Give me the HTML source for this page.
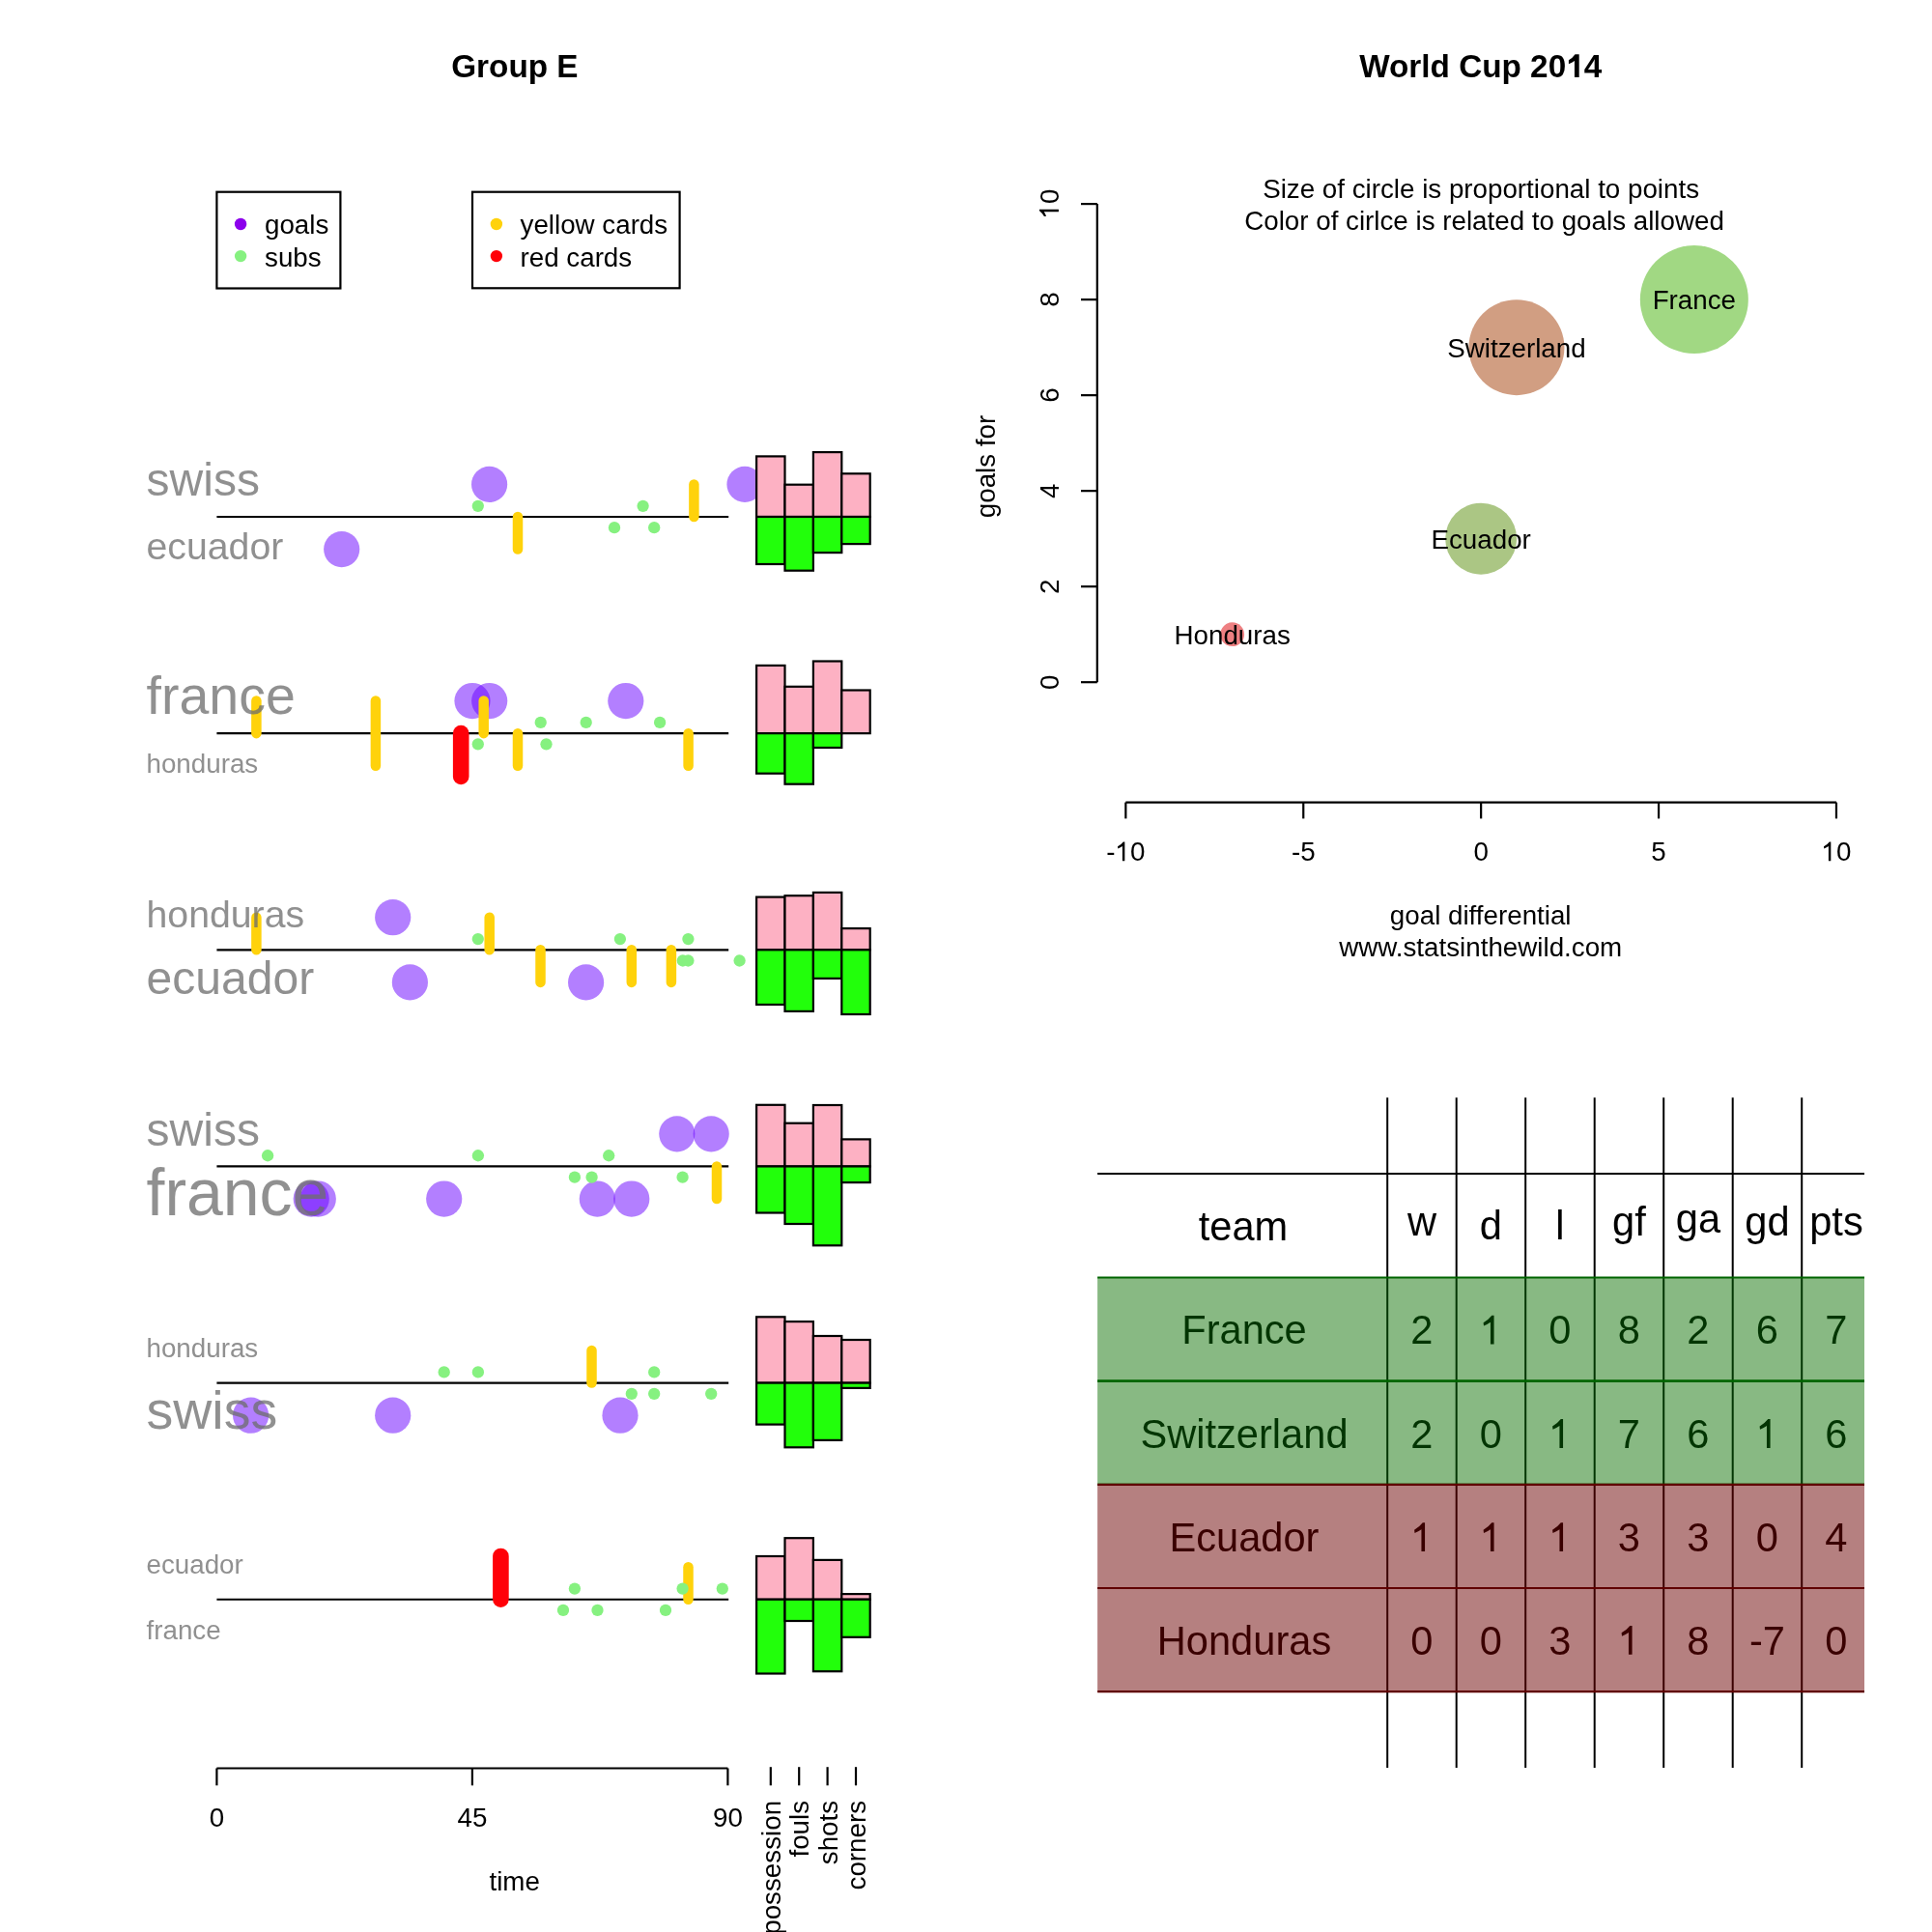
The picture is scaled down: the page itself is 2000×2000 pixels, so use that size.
<!DOCTYPE html>
<html><head><meta charset="utf-8"><title>Group E - World Cup 2014</title>
<style>
html,body{margin:0;padding:0;background:#fff;}
svg{display:block;will-change:transform;}
text{font-family:"Liberation Sans",sans-serif;}
</style></head>
<body>
<svg width="2000" height="2000" viewBox="0 0 2000 2000">
<rect x="0" y="0" width="2000" height="2000" fill="#fff"/>
<text x="532.90" y="80.00" font-size="33.30" font-weight="bold" text-anchor="middle" fill="#000">Group E</text>
<text x="1407.18" y="80.20" font-size="33.30" font-weight="bold" fill="#000">World Cup 20</text>
<path d="M1634.69 80.00L1634.69 56.20L1630.55 56.20Q1627.84 60.02 1623.92 62.20L1623.92 66.14Q1627.50 65.02 1629.93 63.04L1629.93 80.00Z" fill="#000"/>
<text x="1639.70" y="80.20" font-size="33.30" font-weight="bold" fill="#000">4</text>
<rect x="224.4" y="198.7" width="128.0" height="99.8" fill="none" stroke="#000" stroke-width="2.2"/>
<circle cx="249.10" cy="232.00" r="6.20" fill="#8C00EC"/>
<circle cx="249.10" cy="265.10" r="6.20" fill="#86F180"/>
<text x="274.00" y="242.00" font-size="27.75" fill="#000">goals</text>
<text x="274.00" y="275.70" font-size="27.75" fill="#000">subs</text>
<rect x="489.0" y="198.7" width="214.6" height="99.6" fill="none" stroke="#000" stroke-width="2.2"/>
<circle cx="513.90" cy="232.00" r="6.20" fill="#FFD20B"/>
<circle cx="513.90" cy="265.10" r="6.20" fill="#FF0008"/>
<text x="538.50" y="241.90" font-size="27.75" fill="#000">yellow cards</text>
<text x="538.50" y="275.70" font-size="27.75" fill="#000">red cards</text>
<line x1="224.40" y1="535.00" x2="754.20" y2="535.00" stroke="#000" stroke-width="2.2" stroke-linecap="butt"/>
<circle cx="506.60" cy="501.40" r="18.60" fill="#6700FF" fill-opacity="0.5"/>
<circle cx="771.00" cy="501.40" r="18.60" fill="#6700FF" fill-opacity="0.5"/>
<circle cx="353.70" cy="568.60" r="18.60" fill="#6700FF" fill-opacity="0.5"/>
<line x1="718.40" y1="535.00" x2="718.40" y2="501.40" stroke="#FFD20B" stroke-width="10.5" stroke-linecap="round"/>
<line x1="536.00" y1="535.00" x2="536.00" y2="568.60" stroke="#FFD20B" stroke-width="10.5" stroke-linecap="round"/>
<circle cx="494.80" cy="523.80" r="6.15" fill="#86F180"/>
<circle cx="665.60" cy="523.80" r="6.15" fill="#86F180"/>
<circle cx="636.00" cy="546.20" r="6.15" fill="#86F180"/>
<circle cx="677.20" cy="546.20" r="6.15" fill="#86F180"/>
<rect x="783.10" y="472.40" width="29.40" height="62.60" fill="#FDB1C3" stroke="#000" stroke-width="2.2"/>
<rect x="812.50" y="501.70" width="29.40" height="33.30" fill="#FDB1C3" stroke="#000" stroke-width="2.2"/>
<rect x="841.90" y="468.10" width="29.40" height="66.90" fill="#FDB1C3" stroke="#000" stroke-width="2.2"/>
<rect x="871.30" y="490.30" width="29.40" height="44.70" fill="#FDB1C3" stroke="#000" stroke-width="2.2"/>
<rect x="783.10" y="535.00" width="29.40" height="49.00" fill="#22FF0B" stroke="#000" stroke-width="2.2"/>
<rect x="812.50" y="535.00" width="29.40" height="55.70" fill="#22FF0B" stroke="#000" stroke-width="2.2"/>
<rect x="841.90" y="535.00" width="29.40" height="37.10" fill="#22FF0B" stroke="#000" stroke-width="2.2"/>
<rect x="871.30" y="535.00" width="29.40" height="28.10" fill="#22FF0B" stroke="#000" stroke-width="2.2"/>
<text x="151.50" y="513.10" font-size="48.06" fill="#6D6D6D" fill-opacity="0.76">swiss</text>
<text x="151.50" y="578.80" font-size="39.24" fill="#6D6D6D" fill-opacity="0.76">ecuador</text>
<line x1="224.40" y1="759.15" x2="754.20" y2="759.15" stroke="#000" stroke-width="2.2" stroke-linecap="butt"/>
<circle cx="489.00" cy="725.55" r="18.60" fill="#6700FF" fill-opacity="0.5"/>
<circle cx="506.70" cy="725.55" r="18.60" fill="#6700FF" fill-opacity="0.5"/>
<circle cx="647.80" cy="725.55" r="18.60" fill="#6700FF" fill-opacity="0.5"/>
<line x1="265.40" y1="759.15" x2="265.40" y2="725.55" stroke="#FFD20B" stroke-width="10.5" stroke-linecap="round"/>
<line x1="388.90" y1="759.15" x2="388.90" y2="725.55" stroke="#FFD20B" stroke-width="10.5" stroke-linecap="round"/>
<line x1="500.70" y1="759.15" x2="500.70" y2="725.55" stroke="#FFD20B" stroke-width="10.5" stroke-linecap="round"/>
<line x1="388.90" y1="759.15" x2="388.90" y2="792.75" stroke="#FFD20B" stroke-width="10.5" stroke-linecap="round"/>
<line x1="536.00" y1="759.15" x2="536.00" y2="792.75" stroke="#FFD20B" stroke-width="10.5" stroke-linecap="round"/>
<line x1="712.60" y1="759.15" x2="712.60" y2="792.75" stroke="#FFD20B" stroke-width="10.5" stroke-linecap="round"/>
<line x1="477.20" y1="759.15" x2="477.20" y2="803.95" stroke="#FF0008" stroke-width="16.6" stroke-linecap="round"/>
<circle cx="559.70" cy="747.95" r="6.15" fill="#86F180"/>
<circle cx="606.70" cy="747.95" r="6.15" fill="#86F180"/>
<circle cx="683.10" cy="747.95" r="6.15" fill="#86F180"/>
<circle cx="494.80" cy="770.35" r="6.15" fill="#86F180"/>
<circle cx="565.50" cy="770.35" r="6.15" fill="#86F180"/>
<rect x="783.10" y="688.90" width="29.40" height="70.25" fill="#FDB1C3" stroke="#000" stroke-width="2.2"/>
<rect x="812.50" y="710.80" width="29.40" height="48.35" fill="#FDB1C3" stroke="#000" stroke-width="2.2"/>
<rect x="841.90" y="684.50" width="29.40" height="74.65" fill="#FDB1C3" stroke="#000" stroke-width="2.2"/>
<rect x="871.30" y="714.50" width="29.40" height="44.65" fill="#FDB1C3" stroke="#000" stroke-width="2.2"/>
<rect x="783.10" y="759.15" width="29.40" height="41.55" fill="#22FF0B" stroke="#000" stroke-width="2.2"/>
<rect x="812.50" y="759.15" width="29.40" height="52.55" fill="#22FF0B" stroke="#000" stroke-width="2.2"/>
<rect x="841.90" y="759.15" width="29.40" height="14.85" fill="#22FF0B" stroke="#000" stroke-width="2.2"/>
<rect x="871.30" y="759.15" width="29.40" height="0.00" fill="#22FF0B" stroke="#000" stroke-width="2.2"/>
<text x="151.50" y="738.90" font-size="55.50" fill="#6D6D6D" fill-opacity="0.76">france</text>
<text x="151.50" y="799.90" font-size="27.75" fill="#6D6D6D" fill-opacity="0.76">honduras</text>
<line x1="224.40" y1="983.30" x2="754.20" y2="983.30" stroke="#000" stroke-width="2.2" stroke-linecap="butt"/>
<circle cx="406.70" cy="949.70" r="18.60" fill="#6700FF" fill-opacity="0.5"/>
<circle cx="424.40" cy="1016.90" r="18.60" fill="#6700FF" fill-opacity="0.5"/>
<circle cx="606.60" cy="1016.90" r="18.60" fill="#6700FF" fill-opacity="0.5"/>
<line x1="265.40" y1="983.30" x2="265.40" y2="949.70" stroke="#FFD20B" stroke-width="10.5" stroke-linecap="round"/>
<line x1="506.70" y1="983.30" x2="506.70" y2="949.70" stroke="#FFD20B" stroke-width="10.5" stroke-linecap="round"/>
<line x1="559.50" y1="983.30" x2="559.50" y2="1016.90" stroke="#FFD20B" stroke-width="10.5" stroke-linecap="round"/>
<line x1="653.80" y1="983.30" x2="653.80" y2="1016.90" stroke="#FFD20B" stroke-width="10.5" stroke-linecap="round"/>
<line x1="694.90" y1="983.30" x2="694.90" y2="1016.90" stroke="#FFD20B" stroke-width="10.5" stroke-linecap="round"/>
<circle cx="494.80" cy="972.10" r="6.15" fill="#86F180"/>
<circle cx="641.90" cy="972.10" r="6.15" fill="#86F180"/>
<circle cx="712.40" cy="972.10" r="6.15" fill="#86F180"/>
<circle cx="706.80" cy="994.50" r="6.15" fill="#86F180"/>
<circle cx="712.40" cy="994.50" r="6.15" fill="#86F180"/>
<circle cx="765.60" cy="994.50" r="6.15" fill="#86F180"/>
<rect x="783.10" y="928.60" width="29.40" height="54.70" fill="#FDB1C3" stroke="#000" stroke-width="2.2"/>
<rect x="812.50" y="927.20" width="29.40" height="56.10" fill="#FDB1C3" stroke="#000" stroke-width="2.2"/>
<rect x="841.90" y="923.90" width="29.40" height="59.40" fill="#FDB1C3" stroke="#000" stroke-width="2.2"/>
<rect x="871.30" y="961.10" width="29.40" height="22.20" fill="#FDB1C3" stroke="#000" stroke-width="2.2"/>
<rect x="783.10" y="983.30" width="29.40" height="56.70" fill="#22FF0B" stroke="#000" stroke-width="2.2"/>
<rect x="812.50" y="983.30" width="29.40" height="63.60" fill="#22FF0B" stroke="#000" stroke-width="2.2"/>
<rect x="841.90" y="983.30" width="29.40" height="29.60" fill="#22FF0B" stroke="#000" stroke-width="2.2"/>
<rect x="871.30" y="983.30" width="29.40" height="66.70" fill="#22FF0B" stroke="#000" stroke-width="2.2"/>
<text x="151.50" y="960.00" font-size="39.24" fill="#6D6D6D" fill-opacity="0.76">honduras</text>
<text x="151.50" y="1028.70" font-size="48.06" fill="#6D6D6D" fill-opacity="0.76">ecuador</text>
<line x1="224.40" y1="1207.45" x2="754.20" y2="1207.45" stroke="#000" stroke-width="2.2" stroke-linecap="butt"/>
<circle cx="700.80" cy="1173.85" r="18.60" fill="#6700FF" fill-opacity="0.5"/>
<circle cx="736.20" cy="1173.85" r="18.60" fill="#6700FF" fill-opacity="0.5"/>
<circle cx="322.20" cy="1241.05" r="18.60" fill="#6700FF" fill-opacity="0.5"/>
<circle cx="329.30" cy="1241.05" r="18.60" fill="#6700FF" fill-opacity="0.5"/>
<circle cx="459.70" cy="1241.05" r="18.60" fill="#6700FF" fill-opacity="0.5"/>
<circle cx="618.30" cy="1241.05" r="18.60" fill="#6700FF" fill-opacity="0.5"/>
<circle cx="653.80" cy="1241.05" r="18.60" fill="#6700FF" fill-opacity="0.5"/>
<line x1="742.00" y1="1207.45" x2="742.00" y2="1241.05" stroke="#FFD20B" stroke-width="10.5" stroke-linecap="round"/>
<circle cx="277.10" cy="1196.25" r="6.15" fill="#86F180"/>
<circle cx="494.90" cy="1196.25" r="6.15" fill="#86F180"/>
<circle cx="630.20" cy="1196.25" r="6.15" fill="#86F180"/>
<circle cx="594.90" cy="1218.65" r="6.15" fill="#86F180"/>
<circle cx="612.60" cy="1218.65" r="6.15" fill="#86F180"/>
<circle cx="706.60" cy="1218.65" r="6.15" fill="#86F180"/>
<rect x="783.10" y="1143.80" width="29.40" height="63.65" fill="#FDB1C3" stroke="#000" stroke-width="2.2"/>
<rect x="812.50" y="1162.70" width="29.40" height="44.75" fill="#FDB1C3" stroke="#000" stroke-width="2.2"/>
<rect x="841.90" y="1144.00" width="29.40" height="63.45" fill="#FDB1C3" stroke="#000" stroke-width="2.2"/>
<rect x="871.30" y="1179.40" width="29.40" height="28.05" fill="#FDB1C3" stroke="#000" stroke-width="2.2"/>
<rect x="783.10" y="1207.45" width="29.40" height="48.05" fill="#22FF0B" stroke="#000" stroke-width="2.2"/>
<rect x="812.50" y="1207.45" width="29.40" height="59.55" fill="#22FF0B" stroke="#000" stroke-width="2.2"/>
<rect x="841.90" y="1207.45" width="29.40" height="81.85" fill="#22FF0B" stroke="#000" stroke-width="2.2"/>
<rect x="871.30" y="1207.45" width="29.40" height="16.65" fill="#22FF0B" stroke="#000" stroke-width="2.2"/>
<text x="151.50" y="1185.90" font-size="48.06" fill="#6D6D6D" fill-opacity="0.76">swiss</text>
<text x="151.50" y="1257.80" font-size="67.97" fill="#6D6D6D" fill-opacity="0.76">france</text>
<line x1="224.40" y1="1431.60" x2="754.20" y2="1431.60" stroke="#000" stroke-width="2.2" stroke-linecap="butt"/>
<circle cx="259.60" cy="1465.20" r="18.60" fill="#6700FF" fill-opacity="0.5"/>
<circle cx="406.70" cy="1465.20" r="18.60" fill="#6700FF" fill-opacity="0.5"/>
<circle cx="642.00" cy="1465.20" r="18.60" fill="#6700FF" fill-opacity="0.5"/>
<line x1="612.50" y1="1431.60" x2="612.50" y2="1398.00" stroke="#FFD20B" stroke-width="10.5" stroke-linecap="round"/>
<circle cx="459.70" cy="1420.40" r="6.15" fill="#86F180"/>
<circle cx="494.90" cy="1420.40" r="6.15" fill="#86F180"/>
<circle cx="677.20" cy="1420.40" r="6.15" fill="#86F180"/>
<circle cx="653.80" cy="1442.80" r="6.15" fill="#86F180"/>
<circle cx="677.20" cy="1442.80" r="6.15" fill="#86F180"/>
<circle cx="736.20" cy="1442.80" r="6.15" fill="#86F180"/>
<rect x="783.10" y="1363.30" width="29.40" height="68.30" fill="#FDB1C3" stroke="#000" stroke-width="2.2"/>
<rect x="812.50" y="1368.10" width="29.40" height="63.50" fill="#FDB1C3" stroke="#000" stroke-width="2.2"/>
<rect x="841.90" y="1383.00" width="29.40" height="48.60" fill="#FDB1C3" stroke="#000" stroke-width="2.2"/>
<rect x="871.30" y="1387.00" width="29.40" height="44.60" fill="#FDB1C3" stroke="#000" stroke-width="2.2"/>
<rect x="783.10" y="1431.60" width="29.40" height="43.00" fill="#22FF0B" stroke="#000" stroke-width="2.2"/>
<rect x="812.50" y="1431.60" width="29.40" height="66.70" fill="#22FF0B" stroke="#000" stroke-width="2.2"/>
<rect x="841.90" y="1431.60" width="29.40" height="59.30" fill="#22FF0B" stroke="#000" stroke-width="2.2"/>
<rect x="871.30" y="1431.60" width="29.40" height="5.30" fill="#22FF0B" stroke="#000" stroke-width="2.2"/>
<text x="151.50" y="1404.70" font-size="27.75" fill="#6D6D6D" fill-opacity="0.76">honduras</text>
<text x="151.50" y="1478.90" font-size="55.50" fill="#6D6D6D" fill-opacity="0.76">swiss</text>
<line x1="224.40" y1="1655.75" x2="754.20" y2="1655.75" stroke="#000" stroke-width="2.2" stroke-linecap="butt"/>
<line x1="712.50" y1="1655.75" x2="712.50" y2="1622.15" stroke="#FFD20B" stroke-width="10.5" stroke-linecap="round"/>
<line x1="518.40" y1="1655.75" x2="518.40" y2="1610.95" stroke="#FF0008" stroke-width="16.6" stroke-linecap="round"/>
<circle cx="594.90" cy="1644.55" r="6.15" fill="#86F180"/>
<circle cx="706.60" cy="1644.55" r="6.15" fill="#86F180"/>
<circle cx="747.80" cy="1644.55" r="6.15" fill="#86F180"/>
<circle cx="583.00" cy="1666.95" r="6.15" fill="#86F180"/>
<circle cx="618.50" cy="1666.95" r="6.15" fill="#86F180"/>
<circle cx="689.00" cy="1666.95" r="6.15" fill="#86F180"/>
<rect x="783.10" y="1611.00" width="29.40" height="44.75" fill="#FDB1C3" stroke="#000" stroke-width="2.2"/>
<rect x="812.50" y="1592.20" width="29.40" height="63.55" fill="#FDB1C3" stroke="#000" stroke-width="2.2"/>
<rect x="841.90" y="1614.90" width="29.40" height="40.85" fill="#FDB1C3" stroke="#000" stroke-width="2.2"/>
<rect x="871.30" y="1650.10" width="29.40" height="5.65" fill="#FDB1C3" stroke="#000" stroke-width="2.2"/>
<rect x="783.10" y="1655.75" width="29.40" height="76.75" fill="#22FF0B" stroke="#000" stroke-width="2.2"/>
<rect x="812.50" y="1655.75" width="29.40" height="22.25" fill="#22FF0B" stroke="#000" stroke-width="2.2"/>
<rect x="841.90" y="1655.75" width="29.40" height="74.45" fill="#22FF0B" stroke="#000" stroke-width="2.2"/>
<rect x="871.30" y="1655.75" width="29.40" height="39.05" fill="#22FF0B" stroke="#000" stroke-width="2.2"/>
<text x="151.50" y="1628.80" font-size="27.75" fill="#6D6D6D" fill-opacity="0.76">ecuador</text>
<text x="151.50" y="1697.20" font-size="27.75" fill="#6D6D6D" fill-opacity="0.76">france</text>
<line x1="224.40" y1="1830.50" x2="753.40" y2="1830.50" stroke="#000" stroke-width="2.2" stroke-linecap="butt"/>
<line x1="224.40" y1="1830.50" x2="224.40" y2="1848.30" stroke="#000" stroke-width="2.2" stroke-linecap="butt"/>
<line x1="488.90" y1="1830.50" x2="488.90" y2="1848.30" stroke="#000" stroke-width="2.2" stroke-linecap="butt"/>
<line x1="753.40" y1="1830.50" x2="753.40" y2="1848.30" stroke="#000" stroke-width="2.2" stroke-linecap="butt"/>
<text x="224.40" y="1891.20" font-size="27.75" text-anchor="middle" fill="#000">0</text>
<text x="488.90" y="1891.20" font-size="27.75" text-anchor="middle" fill="#000">45</text>
<text x="753.40" y="1891.20" font-size="27.75" text-anchor="middle" fill="#000">90</text>
<text x="532.70" y="1956.70" font-size="27.75" text-anchor="middle" fill="#000">time</text>
<line x1="797.80" y1="1829.20" x2="797.80" y2="1848.30" stroke="#000" stroke-width="2.2" stroke-linecap="butt"/>
<text transform="translate(807.80,1863.90) rotate(-90)" font-size="27.75" text-anchor="end" fill="#000">possession</text>
<line x1="827.20" y1="1829.20" x2="827.20" y2="1848.30" stroke="#000" stroke-width="2.2" stroke-linecap="butt"/>
<text transform="translate(837.20,1863.90) rotate(-90)" font-size="27.75" text-anchor="end" fill="#000">fouls</text>
<line x1="856.60" y1="1829.20" x2="856.60" y2="1848.30" stroke="#000" stroke-width="2.2" stroke-linecap="butt"/>
<text transform="translate(866.60,1863.90) rotate(-90)" font-size="27.75" text-anchor="end" fill="#000">shots</text>
<line x1="886.00" y1="1829.20" x2="886.00" y2="1848.30" stroke="#000" stroke-width="2.2" stroke-linecap="butt"/>
<text transform="translate(896.00,1863.90) rotate(-90)" font-size="27.75" text-anchor="end" fill="#000">corners</text>
<line x1="1135.80" y1="211.10" x2="1135.80" y2="706.20" stroke="#000" stroke-width="2.2" stroke-linecap="butt"/>
<line x1="1119.00" y1="706.20" x2="1135.80" y2="706.20" stroke="#000" stroke-width="2.2" stroke-linecap="butt"/>
<g transform="translate(1095.9,706.20) rotate(-90)"><text x="-7.72" y="0.00" font-size="27.75" fill="#000">0</text></g>
<line x1="1119.00" y1="607.18" x2="1135.80" y2="607.18" stroke="#000" stroke-width="2.2" stroke-linecap="butt"/>
<g transform="translate(1095.9,607.18) rotate(-90)"><text x="-7.72" y="0.00" font-size="27.75" fill="#000">2</text></g>
<line x1="1119.00" y1="508.16" x2="1135.80" y2="508.16" stroke="#000" stroke-width="2.2" stroke-linecap="butt"/>
<g transform="translate(1095.9,508.16) rotate(-90)"><text x="-7.72" y="0.00" font-size="27.75" fill="#000">4</text></g>
<line x1="1119.00" y1="409.14" x2="1135.80" y2="409.14" stroke="#000" stroke-width="2.2" stroke-linecap="butt"/>
<g transform="translate(1095.9,409.14) rotate(-90)"><text x="-7.72" y="0.00" font-size="27.75" fill="#000">6</text></g>
<line x1="1119.00" y1="310.12" x2="1135.80" y2="310.12" stroke="#000" stroke-width="2.2" stroke-linecap="butt"/>
<g transform="translate(1095.9,310.12) rotate(-90)"><text x="-7.72" y="0.00" font-size="27.75" fill="#000">8</text></g>
<line x1="1119.00" y1="211.10" x2="1135.80" y2="211.10" stroke="#000" stroke-width="2.2" stroke-linecap="butt"/>
<g transform="translate(1095.9,211.10) rotate(-90)"><path d="M-5.64 0.00L-5.64 -19.88L-7.15 -19.88Q-9.45 -16.88 -12.96 -14.98L-12.69 -12.77Q-10.05 -13.74 -8.06 -15.21L-8.06 0.00Z" fill="#000"/><text x="0.00" y="0.00" font-size="27.75" fill="#000">0</text></g>
<text transform="translate(1029.80,483.00) rotate(-90)" font-size="27.75" text-anchor="middle" fill="#000">goals for</text>
<line x1="1165.35" y1="830.60" x2="1900.95" y2="830.60" stroke="#000" stroke-width="2.2" stroke-linecap="butt"/>
<line x1="1165.35" y1="830.60" x2="1165.35" y2="847.40" stroke="#000" stroke-width="2.2" stroke-linecap="butt"/>
<text x="1145.30" y="891.30" font-size="27.75" fill="#000">-</text><path d="M1164.33 891.30L1164.33 871.42L1162.82 871.42Q1160.52 874.42 1157.02 876.32L1157.28 878.53Q1159.92 877.56 1161.91 876.09L1161.91 891.30Z" fill="#000"/><text x="1169.97" y="891.30" font-size="27.75" fill="#000">0</text>
<line x1="1349.25" y1="830.60" x2="1349.25" y2="847.40" stroke="#000" stroke-width="2.2" stroke-linecap="butt"/>
<text x="1336.91" y="891.30" font-size="27.75" fill="#000">-5</text>
<line x1="1533.15" y1="830.60" x2="1533.15" y2="847.40" stroke="#000" stroke-width="2.2" stroke-linecap="butt"/>
<text x="1525.43" y="891.30" font-size="27.75" fill="#000">0</text>
<line x1="1717.05" y1="830.60" x2="1717.05" y2="847.40" stroke="#000" stroke-width="2.2" stroke-linecap="butt"/>
<text x="1709.33" y="891.30" font-size="27.75" fill="#000">5</text>
<line x1="1900.95" y1="830.60" x2="1900.95" y2="847.40" stroke="#000" stroke-width="2.2" stroke-linecap="butt"/>
<path d="M1895.31 891.30L1895.31 871.42L1893.80 871.42Q1891.50 874.42 1887.99 876.32L1888.26 878.53Q1890.90 877.56 1892.89 876.09L1892.89 891.30Z" fill="#000"/><text x="1900.95" y="891.30" font-size="27.75" fill="#000">0</text>
<text x="1532.70" y="956.60" font-size="27.75" text-anchor="middle" fill="#000">goal differential</text>
<text x="1532.70" y="990.20" font-size="27.75" text-anchor="middle" fill="#000">www.statsinthewild.com</text>
<text x="1533.10" y="205.00" font-size="27.75" text-anchor="middle" fill="#000">Size of circle is proportional to points</text>
<text x="1536.50" y="238.00" font-size="27.75" text-anchor="middle" fill="#000">Color of cirlce is related to goals allowed</text>
<circle cx="1753.83" cy="310.12" r="56.00" fill="#A1D883"/>
<text x="1753.83" y="320.12" font-size="27.75" text-anchor="middle" fill="#000">France</text>
<circle cx="1569.93" cy="359.63" r="49.50" fill="#D19E82"/>
<text x="1569.93" y="369.63" font-size="27.75" text-anchor="middle" fill="#000">Switzerland</text>
<circle cx="1533.15" cy="557.67" r="37.00" fill="#ABC684"/>
<text x="1533.15" y="567.67" font-size="27.75" text-anchor="middle" fill="#000">Ecuador</text>
<circle cx="1275.69" cy="656.69" r="12.40" fill="#EE8082"/>
<text x="1275.69" y="666.69" font-size="27.75" text-anchor="middle" fill="#000">Honduras</text>
<line x1="1436.20" y1="1136.20" x2="1436.20" y2="1830.10" stroke="#000" stroke-width="2.0" stroke-linecap="butt"/>
<line x1="1507.70" y1="1136.20" x2="1507.70" y2="1830.10" stroke="#000" stroke-width="2.0" stroke-linecap="butt"/>
<line x1="1579.20" y1="1136.20" x2="1579.20" y2="1830.10" stroke="#000" stroke-width="2.0" stroke-linecap="butt"/>
<line x1="1650.70" y1="1136.20" x2="1650.70" y2="1830.10" stroke="#000" stroke-width="2.0" stroke-linecap="butt"/>
<line x1="1722.20" y1="1136.20" x2="1722.20" y2="1830.10" stroke="#000" stroke-width="2.0" stroke-linecap="butt"/>
<line x1="1793.70" y1="1136.20" x2="1793.70" y2="1830.10" stroke="#000" stroke-width="2.0" stroke-linecap="butt"/>
<line x1="1865.20" y1="1136.20" x2="1865.20" y2="1830.10" stroke="#000" stroke-width="2.0" stroke-linecap="butt"/>
<line x1="1136.10" y1="1215.00" x2="1930.00" y2="1215.00" stroke="#000" stroke-width="2.0" stroke-linecap="butt"/>
<rect x="1136.10" y="1322.50" width="793.90" height="107.20" fill="#88B983"/>
<line x1="1436.20" y1="1322.50" x2="1436.20" y2="1429.70" stroke="#033503" stroke-width="2.0" stroke-linecap="butt"/>
<line x1="1507.70" y1="1322.50" x2="1507.70" y2="1429.70" stroke="#033503" stroke-width="2.0" stroke-linecap="butt"/>
<line x1="1579.20" y1="1322.50" x2="1579.20" y2="1429.70" stroke="#033503" stroke-width="2.0" stroke-linecap="butt"/>
<line x1="1650.70" y1="1322.50" x2="1650.70" y2="1429.70" stroke="#033503" stroke-width="2.0" stroke-linecap="butt"/>
<line x1="1722.20" y1="1322.50" x2="1722.20" y2="1429.70" stroke="#033503" stroke-width="2.0" stroke-linecap="butt"/>
<line x1="1793.70" y1="1322.50" x2="1793.70" y2="1429.70" stroke="#033503" stroke-width="2.0" stroke-linecap="butt"/>
<line x1="1865.20" y1="1322.50" x2="1865.20" y2="1429.70" stroke="#033503" stroke-width="2.0" stroke-linecap="butt"/>
<rect x="1136.10" y="1429.70" width="793.90" height="107.20" fill="#88B983"/>
<line x1="1436.20" y1="1429.70" x2="1436.20" y2="1536.90" stroke="#033503" stroke-width="2.0" stroke-linecap="butt"/>
<line x1="1507.70" y1="1429.70" x2="1507.70" y2="1536.90" stroke="#033503" stroke-width="2.0" stroke-linecap="butt"/>
<line x1="1579.20" y1="1429.70" x2="1579.20" y2="1536.90" stroke="#033503" stroke-width="2.0" stroke-linecap="butt"/>
<line x1="1650.70" y1="1429.70" x2="1650.70" y2="1536.90" stroke="#033503" stroke-width="2.0" stroke-linecap="butt"/>
<line x1="1722.20" y1="1429.70" x2="1722.20" y2="1536.90" stroke="#033503" stroke-width="2.0" stroke-linecap="butt"/>
<line x1="1793.70" y1="1429.70" x2="1793.70" y2="1536.90" stroke="#033503" stroke-width="2.0" stroke-linecap="butt"/>
<line x1="1865.20" y1="1429.70" x2="1865.20" y2="1536.90" stroke="#033503" stroke-width="2.0" stroke-linecap="butt"/>
<rect x="1136.10" y="1536.90" width="793.90" height="107.10" fill="#B58080"/>
<line x1="1436.20" y1="1536.90" x2="1436.20" y2="1644.00" stroke="#3A0000" stroke-width="2.0" stroke-linecap="butt"/>
<line x1="1507.70" y1="1536.90" x2="1507.70" y2="1644.00" stroke="#3A0000" stroke-width="2.0" stroke-linecap="butt"/>
<line x1="1579.20" y1="1536.90" x2="1579.20" y2="1644.00" stroke="#3A0000" stroke-width="2.0" stroke-linecap="butt"/>
<line x1="1650.70" y1="1536.90" x2="1650.70" y2="1644.00" stroke="#3A0000" stroke-width="2.0" stroke-linecap="butt"/>
<line x1="1722.20" y1="1536.90" x2="1722.20" y2="1644.00" stroke="#3A0000" stroke-width="2.0" stroke-linecap="butt"/>
<line x1="1793.70" y1="1536.90" x2="1793.70" y2="1644.00" stroke="#3A0000" stroke-width="2.0" stroke-linecap="butt"/>
<line x1="1865.20" y1="1536.90" x2="1865.20" y2="1644.00" stroke="#3A0000" stroke-width="2.0" stroke-linecap="butt"/>
<rect x="1136.10" y="1644.00" width="793.90" height="107.20" fill="#B58080"/>
<line x1="1436.20" y1="1644.00" x2="1436.20" y2="1751.20" stroke="#3A0000" stroke-width="2.0" stroke-linecap="butt"/>
<line x1="1507.70" y1="1644.00" x2="1507.70" y2="1751.20" stroke="#3A0000" stroke-width="2.0" stroke-linecap="butt"/>
<line x1="1579.20" y1="1644.00" x2="1579.20" y2="1751.20" stroke="#3A0000" stroke-width="2.0" stroke-linecap="butt"/>
<line x1="1650.70" y1="1644.00" x2="1650.70" y2="1751.20" stroke="#3A0000" stroke-width="2.0" stroke-linecap="butt"/>
<line x1="1722.20" y1="1644.00" x2="1722.20" y2="1751.20" stroke="#3A0000" stroke-width="2.0" stroke-linecap="butt"/>
<line x1="1793.70" y1="1644.00" x2="1793.70" y2="1751.20" stroke="#3A0000" stroke-width="2.0" stroke-linecap="butt"/>
<line x1="1865.20" y1="1644.00" x2="1865.20" y2="1751.20" stroke="#3A0000" stroke-width="2.0" stroke-linecap="butt"/>
<line x1="1136.10" y1="1322.50" x2="1930.00" y2="1322.50" stroke="#006400" stroke-width="2.2" stroke-linecap="butt"/>
<line x1="1136.10" y1="1429.70" x2="1930.00" y2="1429.70" stroke="#006400" stroke-width="2.2" stroke-linecap="butt"/>
<text x="1288.00" y="1391.30" font-size="41.62" text-anchor="middle" fill="#033503">France</text>
<text x="1471.95" y="1391.30" font-size="41.62" text-anchor="middle" fill="#033503">2</text>
<path d="M1546.56 1391.60L1546.56 1361.80L1544.30 1361.80Q1540.85 1366.30 1535.60 1369.15L1536.00 1372.46Q1539.95 1371.00 1542.94 1368.80L1542.94 1391.60Z" fill="#033503"/>
<text x="1614.95" y="1391.30" font-size="41.62" text-anchor="middle" fill="#033503">0</text>
<text x="1686.45" y="1391.30" font-size="41.62" text-anchor="middle" fill="#033503">8</text>
<text x="1757.95" y="1391.30" font-size="41.62" text-anchor="middle" fill="#033503">2</text>
<text x="1829.45" y="1391.30" font-size="41.62" text-anchor="middle" fill="#033503">6</text>
<text x="1900.95" y="1391.30" font-size="41.62" text-anchor="middle" fill="#033503">7</text>
<line x1="1136.10" y1="1429.70" x2="1930.00" y2="1429.70" stroke="#006400" stroke-width="2.2" stroke-linecap="butt"/>
<line x1="1136.10" y1="1536.90" x2="1930.00" y2="1536.90" stroke="#006400" stroke-width="2.2" stroke-linecap="butt"/>
<text x="1288.00" y="1498.60" font-size="41.62" text-anchor="middle" fill="#033503">Switzerland</text>
<text x="1471.95" y="1498.60" font-size="41.62" text-anchor="middle" fill="#033503">2</text>
<text x="1543.45" y="1498.60" font-size="41.62" text-anchor="middle" fill="#033503">0</text>
<path d="M1618.06 1498.90L1618.06 1469.10L1615.80 1469.10Q1612.35 1473.60 1607.10 1476.45L1607.50 1479.76Q1611.45 1478.30 1614.44 1476.10L1614.44 1498.90Z" fill="#033503"/>
<text x="1686.45" y="1498.60" font-size="41.62" text-anchor="middle" fill="#033503">7</text>
<text x="1757.95" y="1498.60" font-size="41.62" text-anchor="middle" fill="#033503">6</text>
<path d="M1832.56 1498.90L1832.56 1469.10L1830.30 1469.10Q1826.85 1473.60 1821.60 1476.45L1822.00 1479.76Q1825.95 1478.30 1828.94 1476.10L1828.94 1498.90Z" fill="#033503"/>
<text x="1900.95" y="1498.60" font-size="41.62" text-anchor="middle" fill="#033503">6</text>
<line x1="1136.10" y1="1536.90" x2="1930.00" y2="1536.90" stroke="#600000" stroke-width="2.2" stroke-linecap="butt"/>
<line x1="1136.10" y1="1644.00" x2="1930.00" y2="1644.00" stroke="#600000" stroke-width="2.2" stroke-linecap="butt"/>
<text x="1288.00" y="1605.80" font-size="41.62" text-anchor="middle" fill="#3A0000">Ecuador</text>
<path d="M1475.06 1606.10L1475.06 1576.30L1472.80 1576.30Q1469.35 1580.80 1464.10 1583.65L1464.50 1586.96Q1468.45 1585.50 1471.44 1583.30L1471.44 1606.10Z" fill="#3A0000"/>
<path d="M1546.56 1606.10L1546.56 1576.30L1544.30 1576.30Q1540.85 1580.80 1535.60 1583.65L1536.00 1586.96Q1539.95 1585.50 1542.94 1583.30L1542.94 1606.10Z" fill="#3A0000"/>
<path d="M1618.06 1606.10L1618.06 1576.30L1615.80 1576.30Q1612.35 1580.80 1607.10 1583.65L1607.50 1586.96Q1611.45 1585.50 1614.44 1583.30L1614.44 1606.10Z" fill="#3A0000"/>
<text x="1686.45" y="1605.80" font-size="41.62" text-anchor="middle" fill="#3A0000">3</text>
<text x="1757.95" y="1605.80" font-size="41.62" text-anchor="middle" fill="#3A0000">3</text>
<text x="1829.45" y="1605.80" font-size="41.62" text-anchor="middle" fill="#3A0000">0</text>
<text x="1900.95" y="1605.80" font-size="41.62" text-anchor="middle" fill="#3A0000">4</text>
<line x1="1136.10" y1="1644.00" x2="1930.00" y2="1644.00" stroke="#600000" stroke-width="2.2" stroke-linecap="butt"/>
<line x1="1136.10" y1="1751.20" x2="1930.00" y2="1751.20" stroke="#600000" stroke-width="2.2" stroke-linecap="butt"/>
<text x="1288.00" y="1712.50" font-size="41.62" text-anchor="middle" fill="#3A0000">Honduras</text>
<text x="1471.95" y="1712.50" font-size="41.62" text-anchor="middle" fill="#3A0000">0</text>
<text x="1543.45" y="1712.50" font-size="41.62" text-anchor="middle" fill="#3A0000">0</text>
<text x="1614.95" y="1712.50" font-size="41.62" text-anchor="middle" fill="#3A0000">3</text>
<path d="M1689.56 1712.80L1689.56 1683.00L1687.30 1683.00Q1683.85 1687.50 1678.60 1690.35L1679.00 1693.66Q1682.95 1692.20 1685.94 1690.00L1685.94 1712.80Z" fill="#3A0000"/>
<text x="1757.95" y="1712.50" font-size="41.62" text-anchor="middle" fill="#3A0000">8</text>
<text x="1829.45" y="1712.50" font-size="41.62" text-anchor="middle" fill="#3A0000">-7</text>
<text x="1900.95" y="1712.50" font-size="41.62" text-anchor="middle" fill="#3A0000">0</text>
<text x="1287.00" y="1283.60" font-size="41.62" text-anchor="middle" fill="#000">team</text>
<text x="1471.95" y="1279.40" font-size="41.62" text-anchor="middle" fill="#000">w</text>
<text x="1543.45" y="1283.40" font-size="41.62" text-anchor="middle" fill="#000">d</text>
<text x="1614.95" y="1283.40" font-size="41.62" text-anchor="middle" fill="#000">l</text>
<text x="1686.45" y="1278.80" font-size="41.62" text-anchor="middle" fill="#000">gf</text>
<text x="1757.95" y="1276.10" font-size="41.62" text-anchor="middle" fill="#000">ga</text>
<text x="1829.45" y="1279.40" font-size="41.62" text-anchor="middle" fill="#000">gd</text>
<text x="1900.95" y="1279.40" font-size="41.62" text-anchor="middle" fill="#000">pts</text>
</svg>
</body></html>
